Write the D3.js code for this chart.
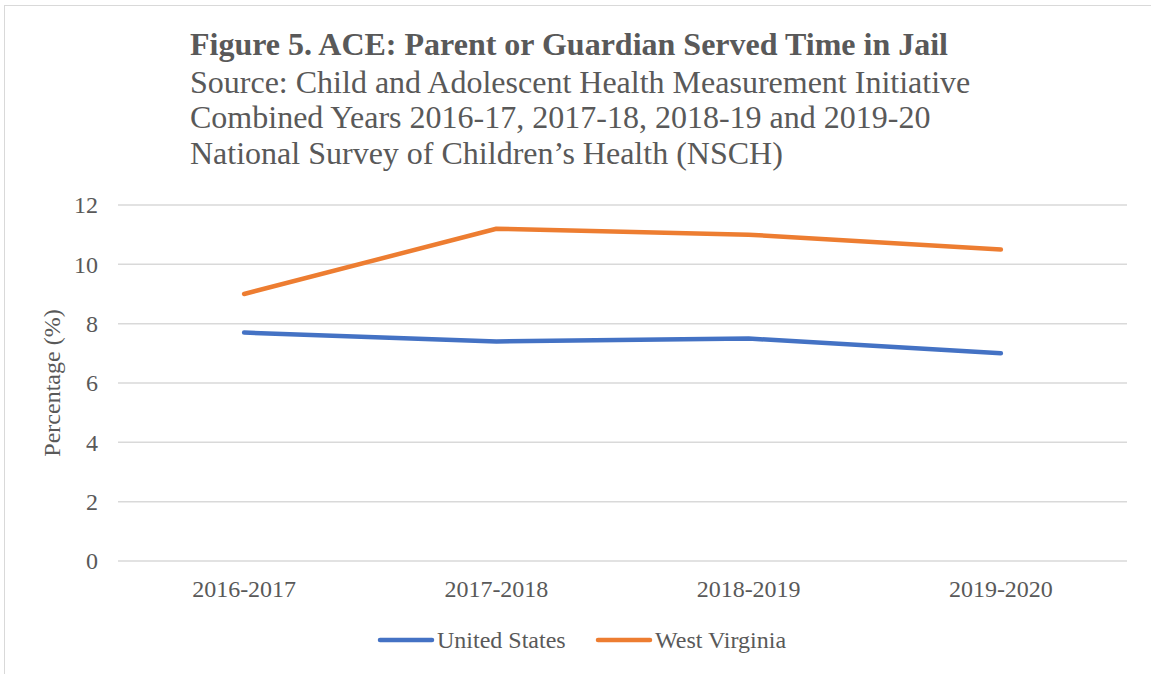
<!DOCTYPE html>
<html>
<head>
<meta charset="utf-8">
<script src="https://cdn.jsdelivr.net/npm/d3@7"></script>
<style>
  body { margin: 0; background: #fff; }
  text { font-family: "Liberation Serif", "Times New Roman", serif; fill: #595959; }
</style>
</head>
<body>
<script>
const width = 1151;
const height = 674;

// data
const periods = ["2016-2017", "2017-2018", "2018-2019", "2019-2020"];
const unitedStates = [7.7, 7.4, 7.5, 7.0];
const westVirginia = [9.0, 11.2, 11.0, 10.5];
const yTicks = [0, 2, 4, 6, 8, 10, 12];

const series = [
  { name: "United States", values: unitedStates, color: "#4472C4" },
  { name: "West Virginia", values: westVirginia, color: "#ED7D31" }
];

const titleLines = [
  "Source: Child and Adolescent Health Measurement Initiative",
  "Combined Years 2016-17, 2017-18, 2018-19 and 2019-20",
  "National Survey of Children\u2019s Health (NSCH)"
];

const margin = { top: 205, right: 24, bottom: 113, left: 118 };

const svg = d3.select("body").append("svg")
  .attr("width", width)
  .attr("height", height);

// chart border
svg.append("rect")
  .attr("x", 4.5).attr("y", 5.5)
  .attr("width", width + 10).attr("height", height + 10)
  .attr("fill", "none")
  .attr("stroke", "#d9d9d9")
  .attr("stroke-width", 1);

const x = d3.scalePoint()
  .domain(periods)
  .range([margin.left, width - margin.right])
  .padding(0.5);

const y = d3.scaleLinear()
  .domain([0, 12])
  .range([height - margin.bottom, margin.top]);

// gridlines
svg.append("g")
  .selectAll("line")
  .data(yTicks)
  .join("line")
  .attr("x1", margin.left)
  .attr("x2", width - margin.right)
  .attr("y1", d => y(d))
  .attr("y2", d => y(d))
  .attr("stroke", "#d9d9d9")
  .attr("stroke-width", 1.5);

// y tick labels
svg.append("g")
  .selectAll("text")
  .data(yTicks)
  .join("text")
  .attr("x", 98)
  .attr("y", d => y(d))
  .attr("dy", "0.35em")
  .attr("text-anchor", "end")
  .attr("font-size", 24)
  .text(d => d);

// x tick labels
svg.append("g")
  .selectAll("text")
  .data(periods)
  .join("text")
  .attr("x", d => x(d))
  .attr("y", 597)
  .attr("text-anchor", "middle")
  .attr("font-size", 24)
  .text(d => d);

// y axis title
svg.append("text")
  .attr("transform", `translate(60,${(y(0) + y(12)) / 2}) rotate(-90)`)
  .attr("text-anchor", "middle")
  .attr("font-size", 24)
  .text("Percentage (%)");

// lines
const line = d3.line()
  .x((d, i) => x(periods[i]))
  .y(d => y(d));

svg.append("g")
  .selectAll("path")
  .data(series)
  .join("path")
  .attr("d", d => line(d.values))
  .attr("fill", "none")
  .attr("stroke", d => d.color)
  .attr("stroke-width", 4.5)
  .attr("stroke-linecap", "round")
  .attr("stroke-linejoin", "round");

// title
svg.append("text")
  .attr("x", 190)
  .attr("y", 55)
  .attr("font-size", 32)
  .attr("font-weight", "bold")
  .text("Figure 5. ACE: Parent or Guardian Served Time in Jail");

svg.append("g")
  .selectAll("text")
  .data(titleLines)
  .join("text")
  .attr("x", 190)
  .attr("y", (d, i) => 92.5 + i * 35.7)
  .attr("font-size", 32)
  .text(d => d);

// legend
const legendX = [378, 596];
const legend = svg.append("g")
  .selectAll("g")
  .data(series)
  .join("g")
  .attr("transform", (d, i) => `translate(${legendX[i]},640)`);

legend.append("line")
  .attr("x1", 2).attr("x2", 54)
  .attr("stroke", d => d.color)
  .attr("stroke-width", 4.5)
  .attr("stroke-linecap", "round");

legend.append("text")
  .attr("x", 59)
  .attr("y", 7.5)
  .attr("font-size", 24)
  .text(d => d.name);
</script>
</body>
</html>
